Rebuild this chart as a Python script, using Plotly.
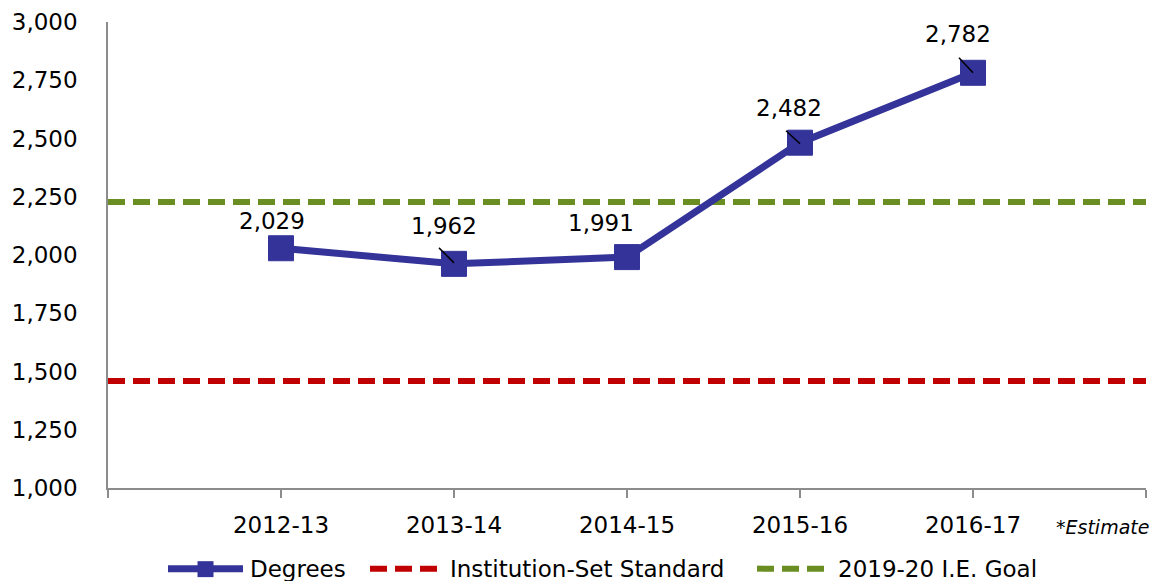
import plotly.graph_objects as go

# ---- data ----
categories = ["2012-13", "2013-14", "2014-15", "2015-16", "2016-17"]
degrees = [2029, 1962, 1991, 2482, 2782]
degree_labels = ["2,029", "1,962", "1,991", "2,482", "2,782"]
standard_value = 1459
goal_value = 2228
y_ticks = [1000, 1250, 1500, 1750, 2000, 2250, 2500, 2750, 3000]

# ---- style ----
FONT = "DejaVu Sans"
BLUE = "#333399"
RED = "#C00000"
GREEN = "#6B8E23"
W, H = 1155, 581
ML, MR, MT, MB = 108, 9, 20, 93
PW, PH = W - ML - MR, H - MT - MB

xpos = list(range(1, len(categories) + 1))
xmin, xmax = 0, len(categories) + 1

# label offsets (pixels) relative to point, leader-line offsets
label_off = [(-9, 27), (-10, 38), (-26, 34), (-11, 35), (-15, 39)]
leaders = [None, (-15, 16, 0, 1), None, (-14, 12, 0, -1), (-14, 15, 0, 0)]

fig = go.Figure()

fig.add_trace(go.Scatter(x=[xmin, xmax], y=[standard_value, standard_value], mode="lines",
                         line=dict(color=RED, width=6, dash="17px,8px"), showlegend=False,
                         hoverinfo="skip"))
fig.add_trace(go.Scatter(x=[xmin, xmax], y=[goal_value, goal_value], mode="lines",
                         line=dict(color=GREEN, width=6, dash="17px,8px"), showlegend=False,
                         hoverinfo="skip"))
fig.add_trace(go.Scatter(x=xpos, y=degrees, mode="lines+markers",
                         line=dict(color=BLUE, width=7),
                         marker=dict(symbol="square", size=25, color=BLUE,
                                     line=dict(color=BLUE, width=1)),
                         showlegend=False))

annotations = []
shapes = []
for i, (xv, yv, lab) in enumerate(zip(xpos, degrees, degree_labels)):
    dx, dy = label_off[i]
    annotations.append(dict(x=xv, y=yv, xref="x", yref="y", text=lab, showarrow=False,
                            xanchor="center", yanchor="middle",
                            xshift=dx, yshift=dy, font=dict(family=FONT, size=23, color="black")))
    if leaders[i]:
        x0, y0, x1, y1 = leaders[i]
        shapes.append(dict(type="line", xref="x", yref="y", xsizemode="pixel", ysizemode="pixel",
                           xanchor=xv, yanchor=yv, x0=x0, y0=y0, x1=x1, y1=y1,
                           line=dict(color="black", width=1.5), layer="above"))


# ---- pixel layout -> paper ----
def px(x):
    return (x - ML) / PW


def py(y):
    return (MT + PH - y) / PH


annotations.append(dict(x=px(1102), y=py(527), xref="paper", yref="paper",
                        xanchor="center", yanchor="middle",
                        text="<i>*Estimate</i>", showarrow=False,
                        font=dict(family=FONT, size=19, color="black")))

# ---- custom legend ----
ly = 569
legend_items = [
    ("Degrees", BLUE, "solid", 168, 243, 248),
    ("Institution-Set Standard", RED, "17px,8px", 370, 443, 448),
    ("2019-20 I.E. Goal", GREEN, "17px,8px", 757, 830, 836),
]
for name, col, dash, xa, xb, xt in legend_items:
    shapes.append(dict(type="line", xref="paper", yref="paper", x0=px(xa), x1=px(xb),
                       y0=py(ly), y1=py(ly), line=dict(color=col, width=7 if dash == "solid" else 6,
                                                       dash=dash)))
    annotations.append(dict(x=px(xt), y=py(ly), xref="paper", yref="paper", text=name,
                            showarrow=False, xanchor="left", yanchor="middle",
                            font=dict(family=FONT, size=23, color="black")))
# legend marker square for Degrees
shapes.append(dict(type="rect", xref="paper", yref="paper", x0=px(197.5), x1=px(213.5),
                   y0=py(577.5), y1=py(561.5), fillcolor=BLUE, line=dict(color=BLUE, width=0)))

fig.update_layout(
    width=W, height=H,
    margin=dict(l=ML, r=MR, t=MT, b=MB),
    paper_bgcolor="white", plot_bgcolor="white",
    font=dict(family=FONT, size=23, color="black"),
    showlegend=False,
    annotations=annotations,
    shapes=shapes,
    xaxis=dict(range=[xmin, xmax], tickmode="array",
               tickvals=[xmin] + xpos + [xmax], ticktext=[""] + categories + [""],
               showgrid=False, zeroline=False, showline=True, linecolor="#8c8c8c", linewidth=1.5,
               ticks="outside", ticklen=8, tickcolor="#8c8c8c", tickwidth=1.5,
               ticklabelstandoff=8,
               tickfont=dict(family=FONT, size=23, color="black")),
    yaxis=dict(range=[1000, 3000], tickmode="array", tickvals=y_ticks,
               ticktext=[f"{v:,}" for v in y_ticks],
               showgrid=False, zeroline=False, showline=True, linecolor="#8c8c8c", linewidth=1.5,
               ticks="", ticklabelstandoff=24,
               tickfont=dict(family=FONT, size=23, color="black")),
)

fig.write_html("out.html", config={"displayModeBar": False},
               post_script="document.body.style.margin='0';document.body.style.overflow='hidden';")
